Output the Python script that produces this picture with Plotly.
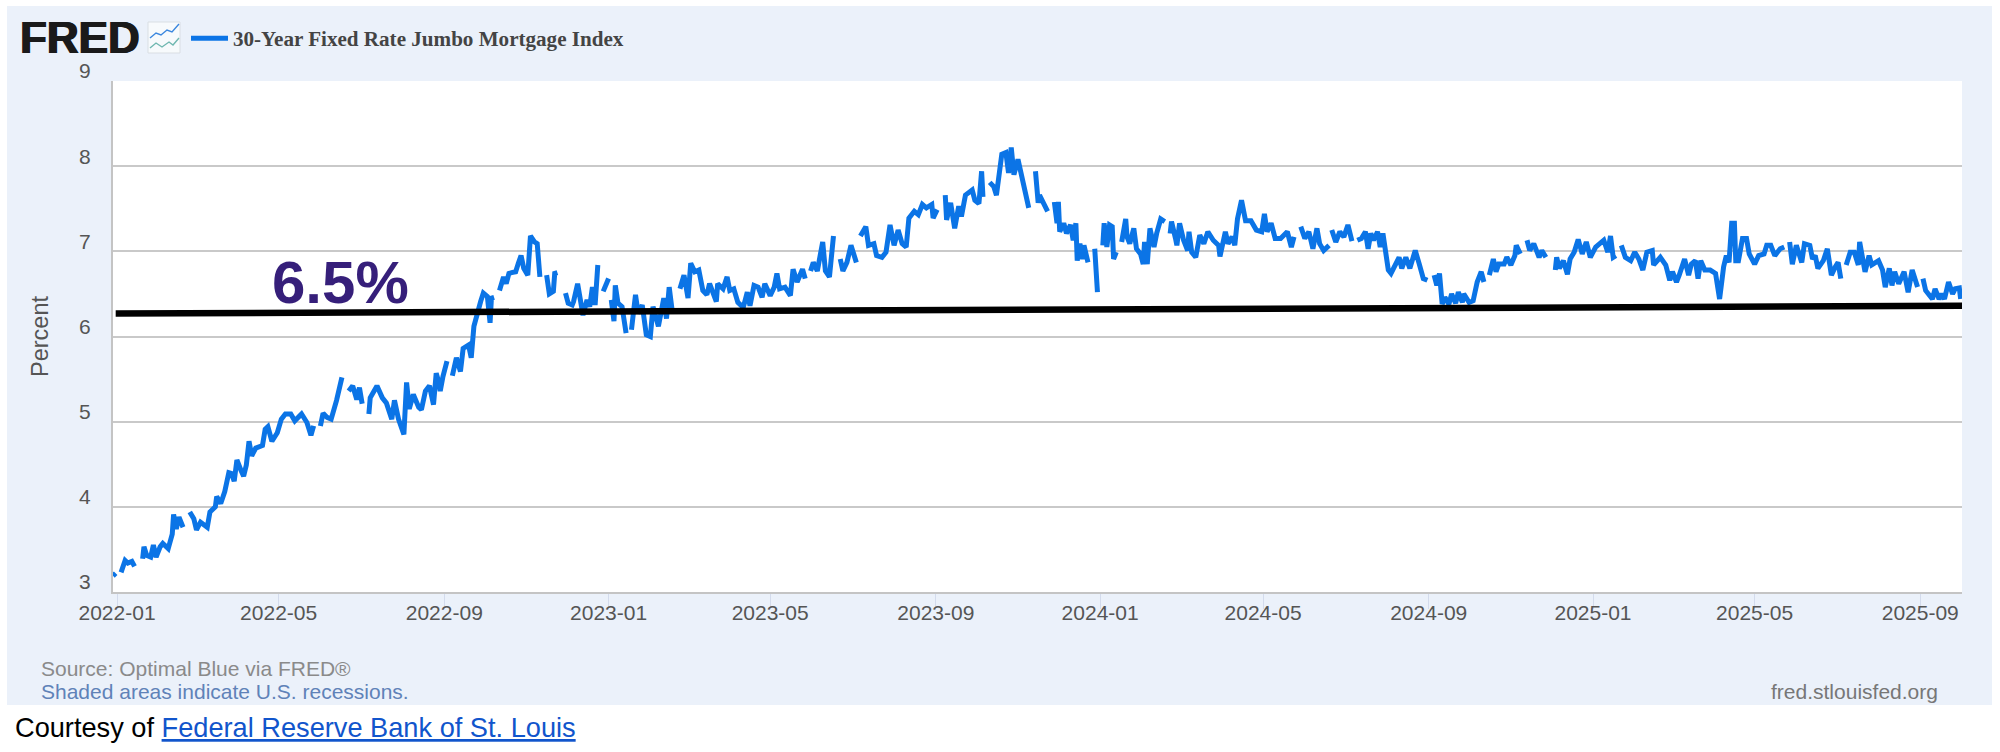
import pandas as pd
import plotly.graph_objects as go

# (days since 2022-01-01, percent); None marks a break in the published series
rates_2022_a = [(-3,3.19),(-1,3.22),(2,None),(3,3.23),(6,3.37),(8,3.34),(11,3.36),(13,3.30),(16,None),
 (19,3.39),(20,3.53),(22,3.43),(25,3.41),(27,3.55),(29,3.41),(32,3.53),(34,3.57),(38,3.51),(41,3.68),(42,3.91),
 (44,3.74),(46,3.88),(49,3.76),(52,None),(54,3.94),(57,3.86),(59,3.73),(62,3.82),(67,3.76),(69,3.94),(73,4.0),
 (74,4.12),(77,4.04),(80,4.18),(83,4.40),(85,4.39),(87,4.30),(89,4.55),(92,4.43),(94,4.36),(96,4.49),(98,4.77),
 (100,4.60),(103,4.69),(108,4.72),(110,4.91),(112,4.94),(115,4.77),(119,4.87),(122,5.03),(125,5.09),(129,5.09),
 (132,5.01),(137,5.09),(141,4.99),(144,4.84),(146,4.95),(149,None),(151,4.95),(153,5.10),(156,5.05),(159,5.03),
 (163,5.25),(167,5.52),(170,None),(172,5.36),(175,5.42),(178,5.26),(180,5.40),(182,5.21),(185,None),(187,5.09),
 (188,5.28),(193,5.42),(197,5.28),(200,5.22),(204,5.03),(206,5.25),(209,5.03),(213,4.85),(215,5.46),(217,5.15),
 (220,5.32),(224,5.17)]
rates_2022_b = [(226,5.14),(229,5.36),(232,5.42),(235,5.20),(237,5.57),(239,5.46),(240,5.36),(242,5.53),(245,5.71),
 (247,None),(249,5.54),(252,5.75),(255,5.59),(257,5.86),(261,5.90),(263,5.75),(265,6.12),(267,6.25),(270,6.41),
 (272,6.51),(275,6.47),(277,6.16),(278,6.45),(280,6.46),(282,None),(284,6.54),(287,6.70),(289,6.62),(291,6.74),
 (293,6.75),(296,6.76),(298,6.86),(300,6.95),(302,6.80),(305,6.72),(307,7.18),(310,7.11),(312,7.09),(314,6.70),
 (317,None),(319,6.72),(321,6.50),(324,6.53),(325,6.74),(327,6.75),(330,None),(333,6.51),(335,6.39),(338,6.37),
 (339,6.41),(342,6.62),(344,6.39),(346,6.25),(349,6.43),(351,6.35),(353,6.58),(355,6.37),(357,6.84),(359,None)]
rates_2023_a = [(361,6.53),(365,6.68),(366,None),(367,6.43),(369,6.18),(370,6.60),(372,6.39),(375,6.35),(378,6.04),
 (380,None),(382,6.08),(385,6.49),(387,6.27),(390,6.37),(393,6.02),(396,6.00),(398,6.35),(402,6.12),(406,6.45),
 (408,6.21),(410,6.58),(412,6.33),(415,None),(418,6.56),(421,6.72),(424,6.45),(426,6.86),(429,6.76),(432,6.78),
 (435,6.54),(438,6.49),(440,6.62),(445,6.41),(446,6.62),(450,6.56),(453,6.70),(455,6.54),(458,6.56),(461,6.40),
 (465,6.34),(468,6.52),(470,6.36),(473,6.60),(476,6.58),(479,6.46),(481,6.62),(485,6.48),(488,6.58),(490,6.74),
 (492,6.56),(496,6.58),(500,6.48),(502,6.79),(505,6.64),(509,6.79),(511,6.68),(513,None),(515,6.77),(517,6.87),
 (520,6.77),(522,6.91),(524,7.11),(526,6.77),(529,6.70),(532,7.18),(535,None),(537,6.91),(539,6.77),(542,6.87),
 (545,7.07),(549,6.87),(551,None),(552,7.18),(556,7.29),(558,7.07),(562,7.09),(564,6.95),(568,6.93),(571,6.99)]
rates_2023_b = [(574,7.31),(577,7.07),(580,7.25),(583,7.09),(586,7.05),(588,7.39),(592,7.47),(595,7.43),(598,7.55),
 (601,7.51),(605,7.55),(606,7.39),(609,7.49),(612,None),(615,7.66),(616,7.37),(619,7.57),(622,7.27),(625,7.53),
 (627,7.41),(630,7.66),(635,7.72),(637,7.60),(640,7.56),(642,7.94),(643,7.64),(646,None),(648,7.81),(651,7.76),
 (653,7.66),(657,8.14),(660,8.16),(662,7.92),(664,8.22),(666,7.90),(669,8.08),(672,7.84),(674,7.72),(677,7.51),
 (679,None),(682,7.94),(684,7.57),(685,7.66),(688,7.56),(691,7.47),(694,None),(696,7.58),(698,7.33),(699,7.58),
 (700,7.23),(703,7.33),(705,7.21),(708,7.31),(710,7.13),(712,7.33),(713,6.89),(715,7.09),(717,6.91),(718,7.07),
 (721,6.87),(724,None),(726,7.03),(728,6.52),(730,None)]
rates_2024_a = [(732,7.07),(733,7.33),(735,7.05),(737,7.31),(739,7.29),(740,6.91),(742,6.99),(744,None),(746,7.11),
 (749,7.38),(750,7.17),(752,7.09),(755,7.27),(757,7.03),(760,6.97),(762,6.85),(763,7.11),(765,6.85),(767,7.27),
 (770,7.05),(772,7.21),(775,7.38),(778,7.35),(780,None),(782,7.21),(783,7.35),(786,7.15),(787,7.07),(789,7.33),
 (792,7.13),(795,7.01),(796,7.23),(798,6.99),(801,6.93),(804,7.19),(807,7.09),(810,7.23),(814,7.13),(818,7.07),
 (819,6.94),(823,7.23),(825,7.09),(828,7.17),(830,7.07),(832,7.38),(835,7.60),(838,7.36),(842,7.36),(846,7.25),
 (850,7.23),(852,7.44),(854,7.23),(857,7.33),(860,7.15),(864,7.15),(869,7.23),(872,7.05),(874,7.17),(877,None),
 (879,7.29),(882,7.15),(885,7.23),(888,7.03),(891,7.27),(893,7.09),(896,7.01),(900,7.07),(901,None),(902,7.25),
 (905,7.11),(908,7.23),(911,7.17),(914,7.31),(916,7.21),(917,7.12),(919,None),(921,7.13),(924,7.15),(927,7.23)]
rates_2024_b = [(929,7.03),(931,7.21),(933,7.13),(936,7.23),(938,7.05),(940,7.21),(942,7.01),(944,6.78),(946,6.74),
 (949,6.85),(952,6.93),(954,6.80),(957,6.93),(960,6.80),(962,6.91),(964,7.01),(967,6.85),(970,6.68),(973,6.66),
 (975,None),(978,6.72),(980,6.60),(982,6.74),(984,6.38),(986,6.46),(989,6.38),(991,6.50),(994,6.39),(996,6.52),
 (999,6.40),(1000,6.50),(1004,6.40),(1007,6.42),(1010,6.64),(1013,6.76),(1015,6.64),(1017,None),(1019,6.72),
 (1022,6.91),(1024,6.76),(1026,6.85),(1030,6.85),(1032,6.93),(1035,6.84),(1038,6.95),(1039,7.07),(1042,6.97),
 (1044,None),(1047,7.13),(1049,7.01),(1052,7.09),(1056,6.93),(1058,7.01),(1061,6.93),(1065,None),(1068,6.78),
 (1069,6.93),(1071,6.80),(1074,6.89),(1077,6.73),(1079,6.91),(1082,6.99),(1085,7.14),(1088,6.97),(1091,7.11)]
rates_2025_a = [(1094,6.93),(1098,7.05),(1101,7.09),(1104,7.13),(1107,6.99),(1109,7.18),(1111,6.93),(1113,6.95),
 (1115,None),(1117,7.07),(1120,6.93),(1124,6.89),(1127,6.99),(1130,6.91),(1133,6.78),(1136,6.99),(1140,7.01),
 (1141,6.84),(1146,6.93),(1150,6.84),(1153,6.66),(1155,6.76),(1158,6.64),(1160,6.72),(1164,6.91),(1167,6.72),
 (1169,6.85),(1172,6.89),(1174,6.68),(1176,6.89),(1179,6.78),(1183,6.78),(1187,6.74),(1190,6.44),(1193,6.82),
 (1195,6.95),(1197,6.87),(1199,7.33),(1201,7.33),(1202,6.89),(1204,6.89),(1207,7.15),(1210,7.15),(1212,6.97),
 (1216,6.85),(1219,6.95),(1223,6.97),(1225,7.07),(1228,7.07),(1231,6.95),(1235,7.03),(1238,7.05),(1240,None)]
rates_2025_b = [(1242,7.11),(1244,6.85),(1247,7.07),(1251,6.87),(1253,7.09),(1257,7.07),(1259,6.91),(1261,6.95),
 (1263,6.80),(1267,6.89),(1270,7.03),(1273,6.72),(1276,6.82),(1278,6.87),(1280,6.68),(1282,None),(1284,6.84),
 (1287,6.99),(1290,6.99),(1293,6.84),(1294,7.11),(1298,6.76),(1301,6.95),(1303,6.84),(1308,6.89),(1311,6.78),
 (1313,6.58),(1316,6.80),(1318,6.60),(1320,6.76),(1323,6.62),(1327,6.76),(1330,6.52),(1333,6.78),(1337,6.58),
 (1339,None),(1341,6.68),(1343,6.54),(1348,6.44),(1350,6.56),(1353,6.44),(1355,6.50),(1357,6.44),(1360,6.64),
 (1363,6.50),(1365,6.56),(1368,6.57),(1369,6.44)]

reference_days = [-1, 1371]
reference_values = [6.27, 6.36]
series_name = "30-Year Fixed Rate Jumbo Mortgage Index"
y_ticks = [3, 4, 5, 6, 7, 8, 9]

BASE = pd.Timestamp("2022-01-01")
def to_date(d):
    return (BASE + pd.Timedelta(days=d)).strftime("%Y-%m-%d")

rows = (rates_2022_a + rates_2022_b + rates_2023_a + rates_2023_b + rates_2024_a + rates_2024_b
        + rates_2025_a + rates_2025_b)
dates = [to_date(d) for d, _ in rows]
rates = [v for _, v in rows]

L, R, T, B = 113, 1962, 81, 592
def px(x): return (x - L) / (R - L)
def py(y): return (B - y) / (B - T)

fig = go.Figure()
fig.add_trace(go.Scatter(x=dates, y=rates, mode="lines", name=series_name,
                         line=dict(color="#0B74E6", width=5, shape="linear"), connectgaps=False))
fig.add_trace(go.Scatter(x=[to_date(d) for d in reference_days], y=reference_values, mode="lines",
                         showlegend=False, line=dict(color="#000000", width=6.5)))

def note(x, y, text, size, color, family="Liberation Sans", xanchor="left", shadow=None):
    font = dict(size=size, color=color, family=family)
    if shadow:
        font["shadow"] = shadow
    fig.add_annotation(xref="paper", yref="paper", x=px(x), y=py(y), text=text, showarrow=False,
                       xanchor=xanchor, yanchor="middle", align="left",
                       font=font, borderpad=0, borderwidth=0)

note(340, 282, "<b>6.5%</b>", 60, "#361F7A", xanchor="center")
note(20, 38, "<b>FRED</b>", 44, "#1A1A1A", shadow="0.8px 0 0 #1A1A1A, -0.8px 0 0 #1A1A1A")
note(41, 668, "Source: Optimal Blue via FRED®", 21, "#8A8A8A")
note(41, 691, "Shaded areas indicate U.S. recessions.", 21, "#5F82B8")
note(1938, 691, "fred.stlouisfed.org", 21, "#777777", xanchor="right")
note(15, 727, "Courtesy of <span style='color:#1155CC'><u>Federal Reserve Bank of St. Louis</u></span>", 27.2, "#000000")

def rect(x0, y0, x1, y1, fill, line=None, width=0):
    return dict(type="rect", xref="paper", yref="paper", x0=px(x0), x1=px(x1), y0=py(y0), y1=py(y1),
                fillcolor=fill, line=dict(color=line or fill, width=width), layer="below")
def poly(points, color):
    path = "M" + " L".join(f"{px(a):.5f},{py(b):.5f}" for a, b in points)
    return dict(type="path", xref="paper", yref="paper", path=path, line=dict(color=color, width=1.4), layer="above")

shapes = [
    rect(7, 6, 1992, 705, "#EBF1FA"),
    rect(L, T, R, B, "#FFFFFF"),
    dict(rect(148, 22, 180, 53, "#F7FAFC", "#D9DEE3", 1), layer="above"),
    poly([(150, 38), (156, 33), (161, 35), (167, 30), (172, 32), (179, 24)], "#3B87DE"),
    poly([(150, 48), (156, 43), (162, 47), (169, 42), (173, 45), (179, 38)], "#6FB7B0"),
]

fig.update_layout(
    width=2000, height=752, margin=dict(l=L, r=2000 - R, t=T, b=752 - B, pad=0),
    paper_bgcolor="#FFFFFF", plot_bgcolor="#FFFFFF", shapes=shapes,
    font=dict(family="Liberation Sans", size=21, color="#555555"),
    showlegend=True,
    legend=dict(x=px(186), y=py(18), xanchor="left", yanchor="top", bgcolor="rgba(0,0,0,0)",
                itemwidth=37, font=dict(family="Liberation Serif", size=21.1, color="#444444", weight="bold")),
    xaxis=dict(type="date", range=[to_date(-3), to_date(1370)], tick0="2022-01-01", dtick="M4",
               tickformat="%Y-%m", ticks="outside", ticklen=15, tickwidth=1, tickcolor="#D3DBEC",
               showgrid=False, zeroline=False, showline=True, linecolor="#C4C4C4", linewidth=2,
               tickfont=dict(size=21, color="#555555"), ticklabelstandoff=-14),
    yaxis=dict(range=[3, 9], tickvals=y_ticks, showgrid=True, gridcolor="#C9C9C9", gridwidth=2,
               zeroline=False, showline=True, linecolor="#C4C4C4", linewidth=2, ticks="",
               tickfont=dict(size=21, color="#555555"), ticklabelshift=-10, ticklabelstandoff=16,
               title=dict(text="Percent", font=dict(size=23.5, color="#555555"), standoff=24)),
)

fig.write_html("out.html", config=dict(displayModeBar=False),
               post_script="document.body.style.margin='0';document.body.style.background='#fff';")
